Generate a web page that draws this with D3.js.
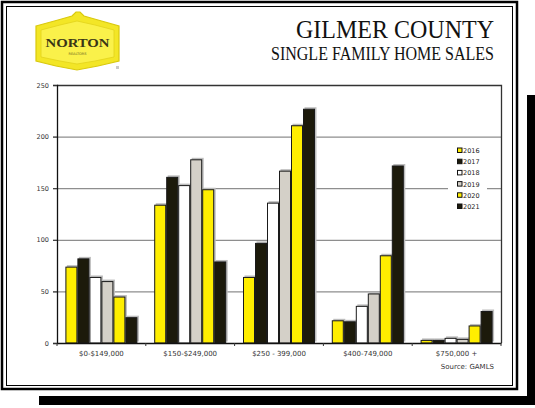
<!DOCTYPE html>
<html>
<head>
<meta charset="utf-8">
<script src="https://cdn.jsdelivr.net/npm/d3@7"></script>
<style>
  html, body { margin: 0; padding: 0; background: #fff; }
  svg { display: block; }
</style>
</head>
<body>
<svg id="chart" width="535" height="408"></svg>
<script>
// Price bands and years
const categories = ["$0-$149,000", "$150-$249,000", "$250 - 399,000", "$400-749,000", "$750,000 +"];
const years = ["2016", "2017", "2018", "2019", "2020", "2021"];

// Home sales per price band, one array per year
const sales2016 = [74, 134, 64, 22, 3];
const sales2017 = [82, 161, 97, 21, 3];
const sales2018 = [64, 153, 136, 36, 5];
const sales2019 = [60, 178, 167, 48, 4];
const sales2020 = [45, 149, 211, 85, 17];
const sales2021 = [25, 79, 227, 172, 31];

const yTicks = [0, 50, 100, 150, 200, 250];
const yearColors = ["#FFEE00", "#1C1A0B", "#FFFFFF", "#D4D0C8", "#FFEE00", "#1C1A0B"];

const series = [sales2016, sales2017, sales2018, sales2019, sales2020, sales2021];

const svg = d3.select("#chart");

// ---- Page frame with heavy drop shadow ----
svg.append("rect").attr("x", 39).attr("y", 396).attr("width", 496).attr("height", 9).attr("fill", "#000");
svg.append("rect").attr("x", 527).attr("y", 95).attr("width", 8).attr("height", 310).attr("fill", "#000");
svg.append("rect").attr("x", 2).attr("y", 2).attr("width", 515).attr("height", 387)
  .attr("fill", "#fff").attr("stroke", "#000").attr("stroke-width", 2.5);
svg.append("rect").attr("x", 6.5).attr("y", 6.5).attr("width", 506).attr("height", 379)
  .attr("fill", "none").attr("stroke", "#000").attr("stroke-width", 1);

// ---- Badge logo ----
const logo = svg.append("g");
logo.append("polygon")
  .attr("points", "36,26 58,20 72,16 76,12 80,12 84,16 98,20 119,26 119,61 98,66 77,70 56,66 36,61")
  .attr("fill", "#F3E626").attr("stroke", "#D9C90E").attr("stroke-width", 1.2);
logo.append("polygon")
  .attr("points", "41,30 60,25 77,21 95,25 114,30 114,57 95,61 77,64 60,61 41,57")
  .attr("fill", "#FAF14A").attr("stroke", "#E2D31A").attr("stroke-width", 0.8);
logo.append("text").attr("x", 77.5).attr("y", 47).attr("text-anchor", "middle")
  .attr("font-family", "Liberation Serif, serif").attr("font-weight", "bold")
  .attr("font-size", 12).attr("fill", "#3A3616")
  .attr("textLength", 64).attr("lengthAdjust", "spacingAndGlyphs").text("NORTON");
logo.append("text").attr("x", 77.5).attr("y", 55).attr("text-anchor", "middle")
  .attr("font-family", "DejaVu Sans, sans-serif").attr("font-size", 3.5).attr("fill", "#6b6420")
  .text("REALTORS");
logo.append("rect").attr("x", 116).attr("y", 66).attr("width", 3).attr("height", 3).attr("fill", "#c9c9c9");

// ---- Titles ----
svg.append("text").attr("x", 494).attr("y", 37.5).attr("text-anchor", "end")
  .attr("font-family", "Liberation Serif, serif").attr("font-size", 25).attr("fill", "#111")
  .attr("textLength", 198).attr("lengthAdjust", "spacingAndGlyphs").text("GILMER COUNTY");
svg.append("text").attr("x", 494).attr("y", 59.5).attr("text-anchor", "end")
  .attr("font-family", "Liberation Serif, serif").attr("font-size", 18).attr("fill", "#111")
  .attr("textLength", 223).attr("lengthAdjust", "spacingAndGlyphs").text("SINGLE FAMILY HOME SALES");

// ---- Plot ----
const plot = { left: 57, right: 501, top: 85, bottom: 343 };

const x0 = d3.scaleBand().domain(categories).range([plot.left, plot.right]).padding(0);
const x1 = d3.scaleBand().domain(years).range([0, x0.bandwidth()]).paddingInner(0).paddingOuter(0.7);
const y = d3.scaleLinear().domain([0, 250]).range([plot.bottom, plot.top]);

// Gridlines
svg.append("g").selectAll("line").data(yTicks.filter(t => t > 0 && t < 250)).join("line")
  .attr("x1", plot.left - 4).attr("x2", plot.right)
  .attr("y1", d => y(d) + 0.5).attr("y2", d => y(d) + 0.5)
  .attr("stroke", "#8E8E8E").attr("stroke-width", 1.3);

// Plot border (top and right)
svg.append("path")
  .attr("d", `M${plot.left},${plot.top + 0.5}H${plot.right + 0.5}V${plot.bottom}`)
  .attr("fill", "none").attr("stroke", "#333").attr("stroke-width", 1.3);

// Bars
const groups = svg.append("g").selectAll("g").data(years).join("g")
  .attr("transform", d => `translate(${x1(d)},0)`);

const barData = (yi) => categories.map((c, ci) => ({ c, v: series[yi][ci], yi }));

groups.each(function (yr, yi) {
  const g = d3.select(this);
  // soft shadow
  g.selectAll("rect.shadow").data(barData(yi)).join("rect")
    .attr("class", "shadow")
    .attr("x", d => x0(d.c) + 1.5).attr("y", d => y(d.v) - 1.5)
    .attr("width", x1.bandwidth()).attr("height", d => plot.bottom - y(d.v))
    .attr("fill", "#BDBDBD");
});
groups.each(function (yr, yi) {
  const g = d3.select(this);
  g.selectAll("rect.bar").data(barData(yi)).join("rect")
    .attr("class", "bar")
    .attr("x", d => x0(d.c) + 0.5).attr("y", d => y(d.v) + 0.5)
    .attr("width", x1.bandwidth() - 1).attr("height", d => Math.max(0, plot.bottom - y(d.v) - 0.5))
    .attr("fill", yearColors[yi]).attr("stroke", "#1A1A1A").attr("stroke-width", 1);
});

// Y axis
const yAxis = svg.append("g").attr("transform", `translate(${plot.left},0)`)
  .call(d3.axisLeft(y).tickValues(yTicks).tickSize(4).tickPadding(4));
yAxis.select(".domain").attr("stroke", "#111").attr("stroke-width", 1.3);
yAxis.selectAll(".tick line").attr("stroke", "#333");
yAxis.selectAll(".tick text").attr("font-family", "DejaVu Sans, sans-serif")
  .attr("font-size", 6.5).attr("fill", "#333");

// X axis: labels centred on bands, ticks on band edges
const xAxis = svg.append("g").attr("transform", `translate(0,${plot.bottom})`)
  .call(d3.axisBottom(x0).tickSize(0).tickPadding(8));
xAxis.select(".domain").attr("stroke", "#111").attr("stroke-width", 1.6);
xAxis.selectAll(".tick text").attr("font-family", "DejaVu Sans, sans-serif")
  .attr("font-size", 7).attr("fill", "#333");
const edges = categories.map(c => x0(c)).concat([plot.right]);
svg.append("g").selectAll("line").data(edges).join("line")
  .attr("x1", d => d).attr("x2", d => d)
  .attr("y1", plot.bottom).attr("y2", plot.bottom + 3)
  .attr("stroke", "#333").attr("stroke-width", 1);

// Source note
svg.append("text").attr("x", 494).attr("y", 368.5).attr("text-anchor", "end")
  .attr("font-family", "DejaVu Sans, sans-serif").attr("font-size", 7).attr("fill", "#333")
  .text("Source: GAMLS");

// Legend
const legend = svg.append("g");
legend.append("rect").attr("x", 448).attr("y", 143).attr("width", 39).attr("height", 70).attr("fill", "#fff");
const items = legend.selectAll("g").data(years).join("g")
  .attr("transform", (d, i) => `translate(457.5,${150.5 + i * 11.2})`);
items.append("rect").attr("x", 0).attr("y", -2.5).attr("width", 4.5).attr("height", 4.5)
  .attr("fill", (d, i) => yearColors[i]).attr("stroke", "#111").attr("stroke-width", 1);
items.append("text").attr("x", 5.5).attr("y", 2.5)
  .attr("font-family", "DejaVu Sans, sans-serif").attr("font-size", 6.5).attr("fill", "#222")
  .text(d => d);
</script>
</body>
</html>
